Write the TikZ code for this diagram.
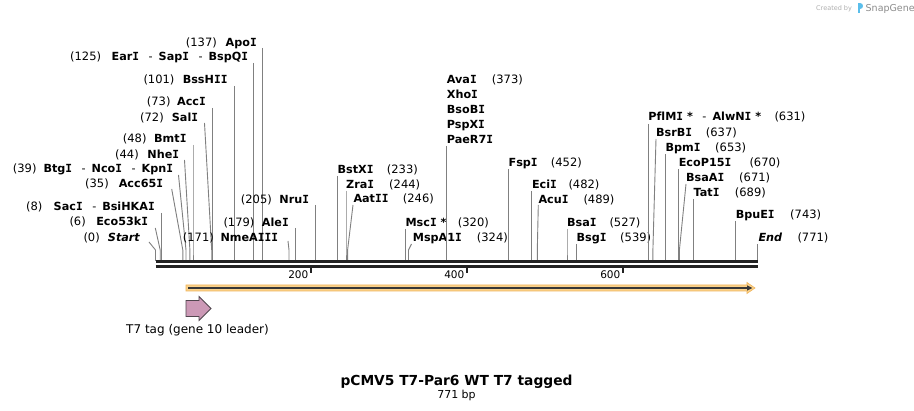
\documentclass[tikz,border=0pt]{standalone}
\usepackage{fontspec}
\setmainfont{DejaVu Sans}
\newfontfamily\monofam{DejaVu Sans Mono}
\usetikzlibrary{arrows.meta}
\definecolor{conn}{RGB}{128,128,128}
\definecolor{rulerc}{RGB}{34,34,34}
\definecolor{orangeF}{RGB}{250,210,140}
\definecolor{orangeD}{RGB}{240,180,90}
\definecolor{darkline}{RGB}{55,55,55}
\definecolor{pinkF}{RGB}{204,153,182}
\definecolor{pinkD}{RGB}{80,70,78}
\definecolor{sgGrey}{RGB}{175,175,175}
\definecolor{sgBlue}{RGB}{90,190,235}
\newcommand{\sI}{{\monofam I}}
\newcommand{\dsh}{\hspace{9.5pt}{\mdseries -}\hspace{6pt}}
% left-side site: id, name, number, y centre, name right x, number left x, top x, top y, site x
\newcommand{\lsite}[9]{%
  \node[lbl,anchor=base east] (#1) at (#5,#4+4.2) {#2};
  \node[num,anchor=base west] (#1n) at (#6,#4+4.2) {#3};
  \coordinate (#1t) at (#7,#8);
  \coordinate (#1b) at (#9,250);
  \coordinate (#1s) at (#9,261);
  \draw[cn] (#1t) -- (#1b) -- (#1s);
}
% right-side site: id, name, number, y centre, name left x, number left x, top x, top y, site x
\newcommand{\rsite}[9]{%
  \node[lbl,anchor=base west] (#1) at (#5,#4+4.2) {#2};
  \node[num,anchor=base west] (#1n) at (#6,#4+4.2) {#3};
  \coordinate (#1t) at (#7,#8);
  \coordinate (#1b) at (#9,250);
  \coordinate (#1s) at (#9,261);
  \draw[cn] (#1t) -- (#1b) -- (#1s);
}
\begin{document}
\begin{tikzpicture}[x=1pt,y=-1pt,
  lbl/.style={inner sep=0pt,font=\fontsize{11.2}{13}\selectfont\bfseries},
  num/.style={inner sep=0pt,font=\fontsize{11.5}{13}\selectfont},
  cn/.style={draw=conn,line width=0.9pt},
  ticklbl/.style={inner sep=0pt,font=\fontsize{10.5}{12}\selectfont,anchor=base east},
  tickmark/.style={draw=rulerc,line width=1.5pt}]
\useasboundingbox (0,0) rectangle (914,411);
\fill[white] (0,0) rectangle (914,411);

% ---- left-side labels
\lsite{ApoI}{Apo\sI}{(137)}{42.3}{257}{185.7}{262.5}{48}{262.5}
\lsite{EarI}{Ear\sI\dsh Sap\sI\dsh BspQ\sI}{(125)}{56.7}{248.3}{70}{253.1}{63}{253.1}
\lsite{BssHII}{BssH\sI\sI}{(101)}{79.3}{227.7}{143.3}{234.4}{86}{234.4}
\lsite{AccI}{Acc\sI}{(73)}{101.7}{206}{146.7}{212.5}{108}{212.5}
\lsite{SalI}{Sal\sI}{(72)}{117}{198.3}{140}{204.5}{123}{211.7}
\lsite{BmtI}{Bmt\sI}{(48)}{138.3}{186.7}{122.7}{193}{145}{193}
\lsite{NheI}{Nhe\sI}{(44)}{154}{179.3}{115}{184.5}{160}{189.9}
\lsite{BtgI}{Btg\sI\dsh Nco\sI\dsh Kpn\sI}{(39)}{168.3}{173.3}{12.7}{178.5}{175}{186}
\lsite{AccSF}{Acc65\sI}{(35)}{183.3}{163.3}{85}{171.7}{189}{182.8}
\lsite{SacI}{Sac\sI\dsh BsiHKA\sI}{(8)}{206.7}{155}{26}{161.7}{213}{161.7}
\lsite{Eco}{Eco53k\sI}{(6)}{221.7}{148.3}{69.3}{155.3}{228}{160.2}
\lsite{Start}{\itshape Start}{(0)}{237.3}{140}{83.3}{149}{242}{155.5}
\lsite{NmeAIII}{NmeA\sI\sI\sI}{(171)}{237}{278.3}{182.7}{288}{241}{289}
\lsite{AleI}{Ale\sI}{(179)}{222}{289}{223.3}{295.3}{228}{295.3}
\lsite{NruI}{Nru\sI}{(205)}{199}{309.3}{240.7}{315.6}{205}{315.6}

% ---- right-side labels
\rsite{BstXI}{BstX\sI}{(233)}{169}{337.4}{386.7}{337.4}{176}{337.4}
\rsite{ZraI}{Zra\sI}{(244)}{184}{346}{389}{346}{191}{346}
\rsite{AatII}{Aat\sI\sI}{(246)}{198.7}{353.3}{402.7}{353}{205}{347.6}
\rsite{MscI}{Msc\sI\ *}{(320)}{222}{405.4}{457.7}{405.4}{229}{405.4}
\rsite{MspA}{MspA1\sI}{(324)}{237.3}{412.7}{476.7}{411.5}{244}{408.5}
\rsite{AvaI}{Ava\sI}{(373)}{79.3}{446.7}{491.7}{446.7}{146}{446.7}
\node[lbl,anchor=base west] (XhoI) at (446.7,94+4.2) {Xho\sI};
\node[lbl,anchor=base west] (BsoBI) at (446.7,109+4.2) {BsoB\sI};
\node[lbl,anchor=base west] (PspXI) at (446.7,124+4.2) {PspX\sI};
\node[lbl,anchor=base west] (PaeR7I) at (446.7,139+4.2) {PaeR7\sI};
\rsite{FspI}{Fsp\sI}{(452)}{162.3}{508.4}{550.7}{508.4}{169}{508.4}
\rsite{EciI}{Eci\sI}{(482)}{184}{531.8}{568.3}{531.8}{191}{531.8}
\rsite{AcuI}{Acu\sI}{(489)}{199}{538.3}{583.3}{538.3}{205}{537.3}
\rsite{BsaI}{Bsa\sI}{(527)}{222}{567}{609.3}{567}{229}{567}
\rsite{BsgI}{Bsg\sI}{(539)}{237.3}{576.4}{620}{576.4}{244}{576.4}
\rsite{PflMI}{Pf\kern0pt lM\sI\ *\dsh AlwN\sI\ *}{(631)}{116.7}{648.2}{774.3}{648.2}{124}{648.2}
\rsite{BsrBI}{BsrB\sI}{(637)}{132}{656}{705.7}{656}{139}{652.9}
\rsite{BpmI}{Bpm\sI}{(653)}{147}{665.4}{715}{665.4}{154}{665.4}
\rsite{EcoP}{EcoP15\sI}{(670)}{162}{678.6}{749.3}{678.6}{169}{678.6}
\rsite{BsaAI}{BsaA\sI}{(671)}{177}{686}{739}{686}{184}{679.4}
\rsite{TatI}{Tat\sI}{(689)}{192}{693.5}{734.7}{693.5}{199}{693.5}
\rsite{BpuEI}{BpuE\sI}{(743)}{214.3}{735.6}{790}{735.6}{221}{735.6}
\rsite{End}{\itshape End}{(771)}{237}{758.3}{797.3}{757.5}{244}{757.5}

% ---- ruler
\coordinate (r0) at (155.5,262);
\coordinate (r1) at (758,262);
\coordinate (q0) at (155.5,266.3);
\coordinate (q1) at (758,266.3);
\draw[rulerc,line width=3pt] (r0) -- (r1);
\draw[rulerc,line width=2.5pt] (q0) -- (q1);
\foreach \xx/\tt in {311/200,467/400,623/600}{
  \draw[tickmark] (\xx,267.5) -- (\xx,273.5);
  \node[ticklbl] at (\xx-2.5,278.5) {\tt};
}

% ---- ORF arrow
\filldraw[fill=orangeF,draw=orangeD,line width=0.6pt]
  (186,285) -- (747,285) -- (747,282.5) -- (755,288) -- (747,293.5) -- (747,291) -- (186,291) -- cycle;
\coordinate (o0) at (188,288);
\coordinate (o1) at (752.5,288);
\draw[darkline,line width=1.6pt,-{Triangle[length=5.5pt,width=5pt]}] (o0) -- (o1);

% ---- T7 tag feature
\filldraw[fill=pinkF,draw=pinkD,line width=0.8pt]
  (186,300.5) -- (199,300.5) -- (199,296.5) -- (211,308.5) -- (199,320.5) -- (199,316.5) -- (186,316.5) -- cycle;
\node[inner sep=0pt,font=\fontsize{12}{14}\selectfont,anchor=base] (t7) at (197.5,333.5) {T7 tag (gene 10 leader)};

% ---- title
\node[inner sep=0pt,font=\fontsize{13.8}{16}\selectfont\bfseries,anchor=base] (title) at (456.5,385.5) {pCMV5 T7-Par6 WT T7 tagged};
\node[inner sep=0pt,font=\fontsize{11}{13}\selectfont,anchor=base] (len) at (456.5,399) {771 bp};

% ---- credit
\node[inner sep=0pt,font=\fontsize{6.5}{8}\selectfont,text=sgGrey,anchor=base west] (cb) at (816,10.5) {Created by};
\fill[sgBlue] (857.5,3.5) rectangle (859.5,13) ;
\fill[sgBlue] (859.5,3.5) .. controls (864,3.5) and (864,9.5) .. (859.5,9.5) -- cycle;
\node[inner sep=0pt,font=\fontsize{9.5}{11}\selectfont,text=sgGrey!80!black,anchor=base west] (sg) at (865.5,11.5) {SnapGene};
\end{tikzpicture}
\end{document}
